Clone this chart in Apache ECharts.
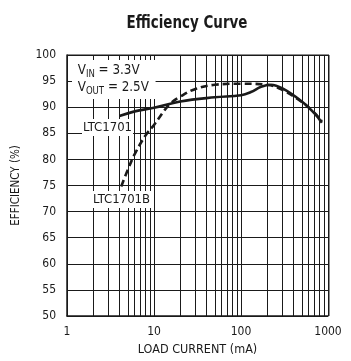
<!DOCTYPE html>
<html>
<head>
<meta charset="utf-8">
<script src="https://cdn.jsdelivr.net/npm/echarts@6/dist/echarts.min.js"></script>
<style>
  html, body { margin: 0; padding: 0; background: #fff; }
  #chart { width: 351px; height: 361px; }
</style>
</head>
<body>
<div id="chart"></div>
<script>
// load current (mA) vs efficiency (%)
const solidCurrent = [4, 6, 10, 20, 50, 100, 130, 170, 220, 300, 500, 700, 850];
const solidEff = [88.3, 89.2, 89.9, 91.1, 91.9, 92.3, 92.9, 93.9, 94.3, 93.6, 91.1, 88.8, 87.0];

const dashCurrent = [4.2, 5, 6, 8, 10, 15, 20, 30, 50, 100, 200, 300, 500, 700, 850];
const dashEff = [74.8, 78.0, 81.0, 84.6, 86.6, 90.5, 92.0, 93.5, 94.3, 94.5, 94.3, 93.3, 91.0, 88.9, 87.3];

// minor vertical grid lines (1-2-..-9 per decade)
const minorX = [2, 3, 4, 5, 6, 7, 8, 9, 20, 30, 40, 50, 60, 70, 80, 90, 200, 300, 400, 500, 600, 700, 800, 900];

const font = '"Liberation Sans Narrow", "DejaVu Sans Condensed", "Liberation Sans", sans-serif';
const ink = '#1a1a1a';

const chart = echarts.init(document.getElementById('chart'));

const pairs = (xs, ys) => xs.map((x, i) => [x, ys[i]]);

chart.setOption({
  animation: false,
  grid: { left: 67, right: 23, top: 55, bottom: 45 },
  xAxis: {
    type: 'log',
    logBase: 10,
    min: 1,
    max: 1000,
    name: 'LOAD CURRENT (mA)',
    nameLocation: 'middle',
    nameGap: 26,
    nameTextStyle: { fontFamily: font, fontSize: 12.5, color: ink },
    axisLine: { lineStyle: { color: ink, width: 1.5 } },
    axisTick: { show: false },
    axisLabel: { fontFamily: font, fontSize: 12, color: ink, margin: 10, formatter: v => String(v) },
    splitLine: { show: true, lineStyle: { color: ink, width: 1 } }
  },
  yAxis: {
    type: 'value',
    min: 50,
    max: 100,
    interval: 5,
    name: 'EFFICIENCY (%)',
    nameLocation: 'middle',
    nameGap: 45,
    nameTextStyle: { fontFamily: font, fontSize: 11.5, color: ink },
    axisLine: { show: true, lineStyle: { color: ink, width: 1.5 } },
    axisTick: { show: false },
    axisLabel: { fontFamily: font, fontSize: 12, color: ink, margin: 11 },
    splitLine: { show: true, lineStyle: { color: ink, width: 1 } }
  },
  graphic: [
    {
      type: 'text', z: 60, x: 187, y: 23, scaleX: 0.83,
      style: {
        text: 'Efficiency Curve',
        fontFamily: font, fontSize: 18, fontWeight: 'bold', fill: ink,
        align: 'center', verticalAlign: 'middle'
      }
    },
    {
      type: 'rect', z: 50,
      shape: { x: 328, y: 55, width: 1.5, height: 261 },
      style: { fill: ink }
    },
    {
      type: 'rect', z: 50,
      shape: { x: 67, y: 54.5, width: 262, height: 1.5 },
      style: { fill: ink }
    },
    {
      type: 'text', z: 60, x: 72, y: 60, scaleX: 0.95,
      style: {
        text: '{a|V}{s|IN}{a| = 3.3V}\n{a|V}{s|OUT}{a| = 2.5V}',
        backgroundColor: '#fff',
        padding: [2, 7, 3, 6],
        rich: {
          a: { fontFamily: font, fontSize: 14, fill: ink, lineHeight: 17 },
          s: { fontFamily: font, fontSize: 10, fill: ink, lineHeight: 17, verticalAlign: 'bottom', padding: [5, 0, 0, 0] }
        }
      }
    },
    {
      type: 'text', z: 60, x: 82, y: 119,
      style: {
        text: 'LTC1701',
        fontFamily: font, fontSize: 13, fill: ink,
        backgroundColor: '#fff', padding: [2, 1, 2, 1]
      }
    },
    {
      type: 'text', z: 60, x: 92, y: 191,
      style: {
        text: 'LTC1701B',
        fontFamily: font, fontSize: 13, fill: ink,
        backgroundColor: '#fff', padding: [2, 1, 2, 1]
      }
    }
  ],
  series: [
    {
      type: 'line',
      data: [],
      silent: true,
      markLine: {
        silent: true,
        symbol: 'none',
        label: { show: false },
        lineStyle: { color: ink, width: 1, type: 'solid' },
        data: minorX.map(v => ({ xAxis: v }))
      }
    },
    {
      name: 'LTC1701',
      type: 'line',
      data: pairs(solidCurrent, solidEff),
      smooth: 0.4,
      showSymbol: false,
      z: 5,
      lineStyle: { color: ink, width: 2.6 }
    },
    {
      name: 'LTC1701B',
      type: 'line',
      data: pairs(dashCurrent, dashEff),
      smooth: 0.4,
      showSymbol: false,
      z: 5,
      lineStyle: { color: ink, width: 2.6, type: [7, 4] }
    }
  ]
});
</script>
</body>
</html>
